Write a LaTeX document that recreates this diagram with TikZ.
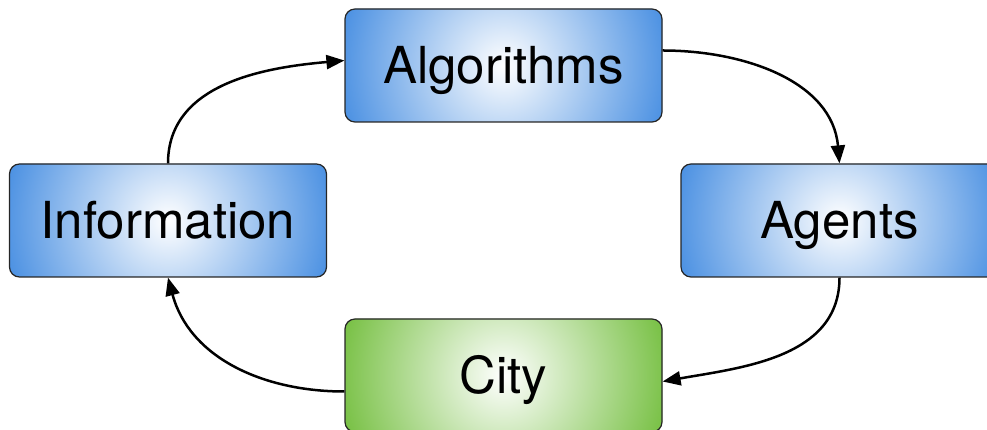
\documentclass[tikz,border=0pt]{standalone}
\usepackage{fontspec}
\setmainfont{TeX Gyre Heros}
\usetikzlibrary{arrows.meta}
\definecolor{boxblue}{HTML}{4A90E2}
\definecolor{boxgreen}{HTML}{77C043}

\begin{document}
\begin{tikzpicture}[x=1pt, y=1pt,
  stage/.style={draw=black!85, line width=1.2pt, rounded corners=10pt,
    minimum width=317pt, minimum height=113pt,
    text height=36pt, text depth=0pt,
    font=\fontsize{51}{61}\selectfont},
  glow/.style={fill=#1, path picture={\shade[inner color=white, outer color=#1]
    (path picture bounding box.center) circle (168pt);}},
  flow/.style={-{Triangle[length=18pt,width=14pt]}, line width=2.5pt}]
\useasboundingbox (0,0) rectangle (987,430); % page size

\node[stage, glow=boxblue] (alg) at (503.5,364.5) {Algorithms}; % top
\node[stage, glow=boxblue] (info) at (168,209.5) {Information}; % left
\node[stage, glow=boxblue] (agents) at (839.5,209.5) {Agents}; % right
\node[stage, glow=boxgreen] (city) at (503.5,54.5) {City}; % bottom

\draw[flow] (info.north) to[out=90, in=185] ([yshift=5pt]alg.west); % info -> algorithms
\draw[flow] ([yshift=15pt]alg.east) to[out=0, in=95] (agents.north); % algorithms -> agents
\draw[flow] (agents.south) to[out=270, in=10] ([yshift=-6pt]city.east); % agents -> city
\draw[flow] ([yshift=-16pt]city.west) to[out=180, in=285] (info.south); % city -> info

\end{tikzpicture}
\end{document}
